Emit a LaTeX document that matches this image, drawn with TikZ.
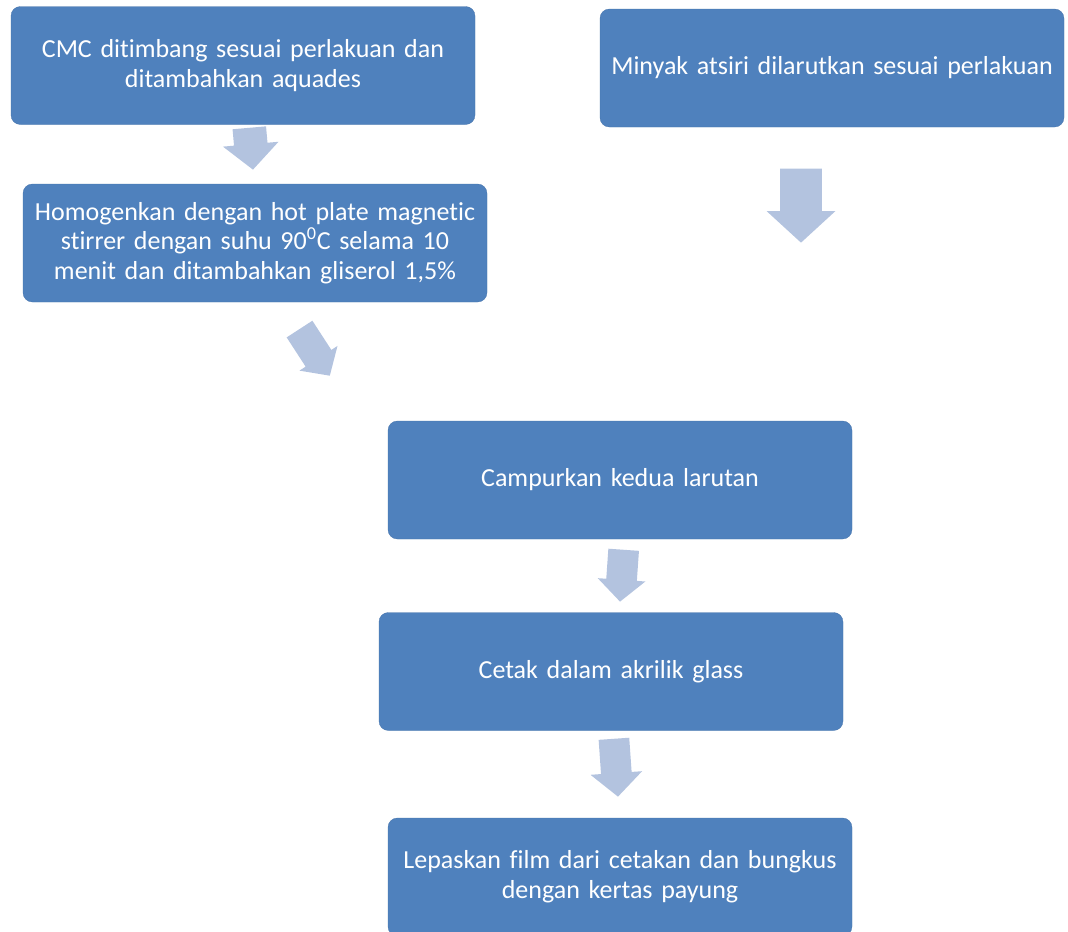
\documentclass[tikz,border=0pt]{standalone}
\usepackage{fontspec}
\setmainfont[Ligatures=NoCommon]{Carlito}
\usepackage{tikz}
\usetikzlibrary{shapes.arrows}

\definecolor{boxblue}{HTML}{4F81BD}
\definecolor{arrowblue}{HTML}{B3C3DF}

\begin{document}
\begin{tikzpicture}[
            x = 0.75pt, % one pixel of the reference
            y = -0.75pt,
            font = \fontsize{19.5}{22.3}\selectfont
        ]

        \tikzstyle{step box}=[
            rectangle,
            rounded corners = 7pt,
            fill = boxblue,
            draw = boxblue!90!black,
            very thin,
            text = white,
            align = center,
            text width = 340pt,
            minimum width = 348pt,
            minimum height = 88.5pt
        ]
        \tikzstyle{block arrow}=[
            single arrow,
            fill = arrowblue,
            draw = none,
            anchor = tip,
            minimum width = 0pt,
            inner xsep = 0pt,
            single arrow tip angle = 95
        ]

        % page
        \useasboundingbox (0,0) rectangle (1068,932);

	% left branch
        \node[step box] (CMC) at (243,65.5) {CMC ditimbang sesuai perlakuan dan\\ditambahkan aquades};
        \node[step box] (HOM) at (255,243) {Homogenkan dengan hot plate magnetic\\stirrer dengan suhu 90\textsuperscript{0}C selama 10\\menit dan ditambahkan gliserol 1,5\%};

        \node[block arrow, inner ysep = 12.4pt, single arrow head extend = 8.3pt,
              minimum height = 31.5pt, rotate = -85] (A1) at (253,170) {};
        \node[block arrow, inner ysep = 11.3pt, single arrow head extend = 5.5pt,
              minimum height = 41.7pt, rotate = -57] (A3) at (330,376) {};

	% right branch
        \node[step box] (MIN) at (832,68) {Minyak atsiri dilarutkan sesuai perlakuan};

        \node[block arrow, inner ysep = 15.4pt, single arrow head extend = 10.1pt,
              minimum height = 55.5pt, rotate = -90] (A2) at (801,243) {};

	% mixing and film
        \node[step box] (MIX) at (620,480) {Campurkan kedua larutan};
        \node[step box] (CET) at (611,671.5) {Cetak dalam akrilik glass};
        \node[step box] (LEP) at (620,877) {Lepaskan film dari cetakan dan bungkus\\dengan kertas payung};

        \node[block arrow, inner ysep = 11.3pt, single arrow head extend = 6.4pt,
              minimum height = 39pt, rotate = -94] (A4) at (620,602) {};
        \node[block arrow, inner ysep = 11.3pt, single arrow head extend = 7.9pt,
              minimum height = 43.5pt, rotate = -86] (A5) at (618,797) {};

\end{tikzpicture}
\end{document}
